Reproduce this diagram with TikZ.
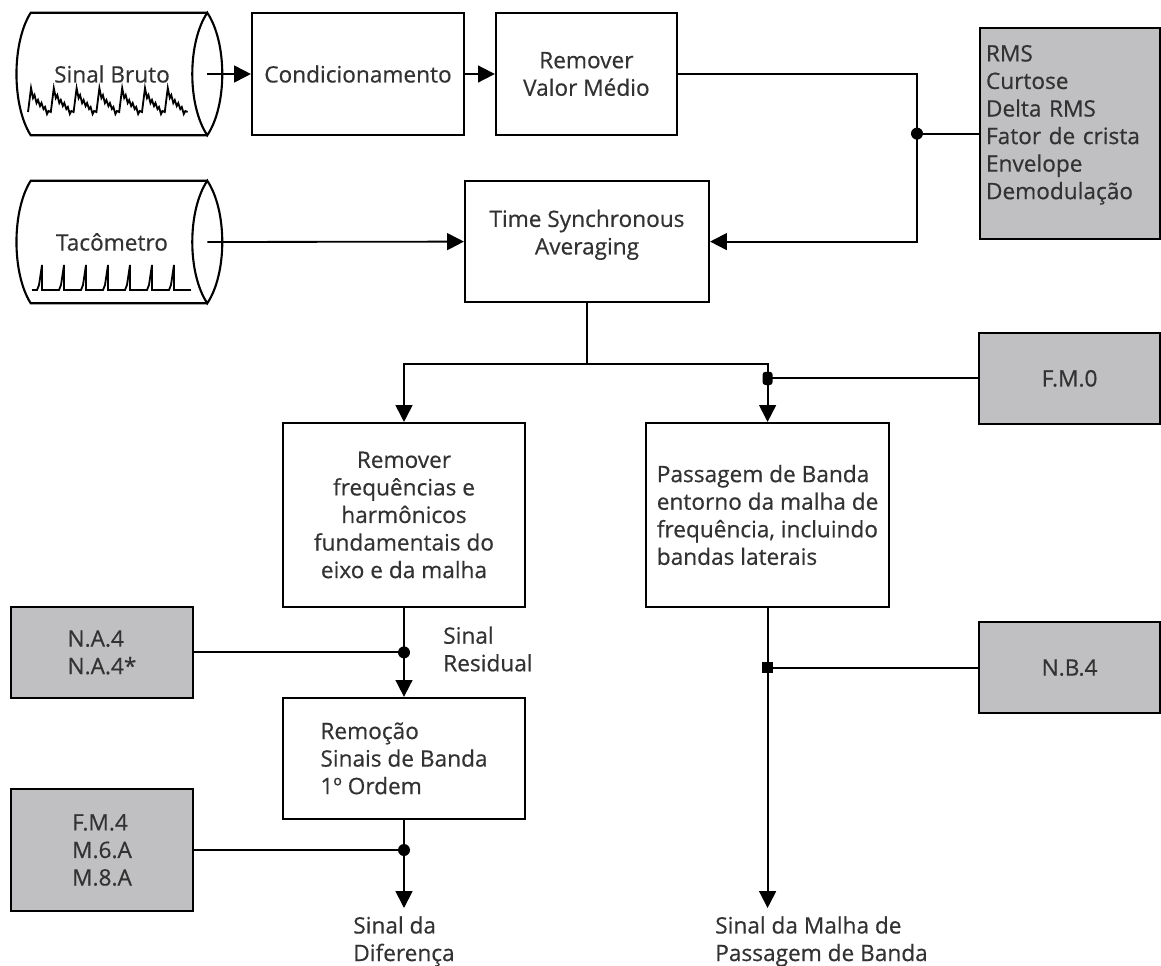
\documentclass[tikz,border=0pt]{standalone}
\usepackage{fontspec}
\setmainfont{Open Sans}[FakeBold=0.5]
\usetikzlibrary{arrows.meta,positioning}
\definecolor{boxgray}{RGB}{192,192,194}
\definecolor{inkgray}{RGB}{50,50,50}

\begin{document}
\begin{tikzpicture}[
  font=\fontsize{16.1}{19.6}\selectfont,
  every node/.style={text=inkgray},
  box/.style={draw, line width=1.5pt, inner sep=0pt, align=center},
  gbox/.style={box, fill=boxgray},
  drum/.style={inner sep=0pt, minimum width=4.75cm, minimum height=3.05cm},
  wire/.style={line width=1.3pt},
  flow/.style={wire, -{Triangle[length=0.42cm, width=0.42cm]}},
  jdot/.style={circle, fill=black, inner sep=0pt, minimum size=0.3cm},
  sqdot/.style={fill=black, inner sep=0pt, minimum size=0.27cm},
  pill/.style={fill=black, rounded corners=2pt, inner sep=0pt, minimum width=0.25cm, minimum height=0.33cm},
  lbl/.style={align=left, inner sep=0pt},
  trace/.style={line width=1.3pt, line join=miter},
]
\useasboundingbox (0,0) rectangle (29.025,-24.15);

% Signal sources
\node[drum] (bruto) at (2.8,-1.85) {Sinal Bruto};
\node[drum] (taco) at (2.8,-6.05) {Tacômetro};
\foreach \n in {bruto,taco} {
  \draw[line width=1.5pt] (\n.north east) -- ([xshift=0.35cm]\n.north west)
    .. controls ([xshift=-0.125cm, yshift=-0.75cm]\n.north west) and ([xshift=-0.125cm, yshift=0.75cm]\n.south west) .. ([xshift=0.35cm]\n.south west)
    -- (\n.south east);
  \draw[line width=1.5pt] (\n.north east)
    .. controls ([xshift=0.5cm, yshift=-0.75cm]\n.north east) and ([xshift=0.5cm, yshift=0.75cm]\n.south east) .. (\n.south east)
    .. controls ([xshift=-0.5cm, yshift=0.75cm]\n.south east) and ([xshift=-0.5cm, yshift=-0.75cm]\n.north east) .. cycle;
}

% Raw signal trace
\begin{scope}[shift={(bruto.center)}, x=0.025cm, y=-0.025cm]
\draw[trace] (-84,38) \foreach \k in {1,...,7} { -- ++(3,-24) -- ++(2,10) -- ++(1.5,-3) -- ++(2,8) -- ++(1.5,-3) -- ++(2,6) -- ++(1.5,-3) -- ++(2,6) -- ++(1.5,-2) -- ++(2,7) -- ++(1.5,-3) -- ++(2.3,1) };
\end{scope}

% Tachometer pulses
\begin{scope}[shift={(taco.center)}, x=0.025cm, y=-0.025cm]
\draw[trace] (-80,48) -- ++(5,0) \foreach \k in {1,...,7} { -- ++(2,-5) -- ++(3,-20) -- ++(0,25) -- ++(17,0) };
\end{scope}

% Processing blocks
\node[box, minimum width=5.3cm, minimum height=3.05cm] (cond) at (8.95,-1.85) {Condicionamento};
\node[box, minimum width=4.525cm, minimum height=3.05cm] (remover) at (14.66,-1.85) {Remover\\Valor Médio};
\node[box, minimum width=6.1cm, minimum height=3.025cm] (tsa) at (14.675,-6.04) {Time Synchronous\\Averaging\rule[-0.475cm]{0pt}{0.475cm}};
\node[box, minimum width=6.05cm, minimum height=4.6cm] (remfreq) at (10.1,-12.875) {Remover\\frequências e\\harmônicos\\fundamentais do\\eixo e da malha};
\node[box, align=left, minimum width=6.075cm, minimum height=4.6cm] (passagem) at (19.19,-12.875) {Passagem de Banda\\entorno da malha de\\frequência, incluindo\\bandas laterais};
\node[box, align=left, minimum width=6.05cm, minimum height=3.025cm] (remocao) at (10.1,-18.96) {Remoção\\Sinais de Banda\\1º Ordem};

% Indicator blocks
\node[gbox, align=left, text width=4.2cm, minimum width=4.5cm, minimum height=5.275cm] (rms) at (26.75,-3.34) {RMS\\Curtose\\Delta RMS\\Fator de crista\\Envelope\\Demodulação\rule[-0.575cm]{0pt}{0.575cm}};
\node[gbox, minimum width=4.525cm, minimum height=2.275cm] (fm0) at (26.74,-9.46) {F.M.0};
\node[gbox, minimum width=4.525cm, minimum height=2.275cm] (nb4) at (26.74,-16.69) {N.B.4};
\node[gbox, align=left, minimum width=4.55cm, minimum height=2.275cm] (na4) at (2.55,-16.31) {N.A.4\\N.A.4*};
\node[gbox, align=left, minimum width=4.55cm, minimum height=3.05cm] (fm4) at (2.55,-21.25) {F.M.4\\M.6.A\\M.8.A};

% Junctions and outputs
\coordinate (rmsj) at (22.925,-3.34);
\coordinate (split) at (14.675,-9.1);
\coordinate (fm0j) at (passagem.north |- fm0.west);
\coordinate (na4j) at (remfreq.south |- na4.east);
\coordinate (fm4j) at (remocao.south |- fm4.east);
\coordinate (nb4j) at (passagem.south |- nb4.west);
\coordinate (difout) at (10.1,-22.7);
\coordinate (malhaout) at (19.19,-22.7);

% Connectors
\draw[flow] (bruto.east) -- (cond.west);
\draw[flow] (cond) -- (remover);
\draw[flow] (remover.east) -| (rmsj) |- (tsa.east);
\draw[wire] (rms.west) -- (rmsj);
\draw[flow] (taco.east) -- (tsa.west);
\draw[wire] (tsa.south) -- (split);
\draw[flow] (split) -| (remfreq.north);
\draw[flow] (split) -| (passagem.north);
\draw[wire] (fm0.west) -- (fm0j);
\draw[flow] (remfreq.south) -- (remocao.north);
\draw[wire] (na4.east) -- (na4j);
\draw[flow] (remocao.south) -- (difout);
\draw[wire] (fm4.east) -- (fm4j);
\draw[flow] (passagem.south) -- (malhaout);
\draw[wire] (nb4.west) -- (nb4j);

\node[jdot] (rmsdot) at (rmsj) {};
\node[pill] (fm0dot) at (fm0j) {};
\node[jdot] (na4dot) at (na4j) {};
\node[jdot] (fm4dot) at (fm4j) {};
\node[sqdot] (nb4dot) at (nb4j) {};

% Signal labels
\node[lbl, anchor=west] (residual) at (11.075,-16.225) {Sinal\\Residual};
\node[lbl, below=0.2cm of difout] (diferenca) {Sinal da\\Diferença};
\node[lbl, anchor=north west] (malha) at (17.875,-22.9) {Sinal da Malha de\\Passagem de Banda};
\end{tikzpicture}
\end{document}
